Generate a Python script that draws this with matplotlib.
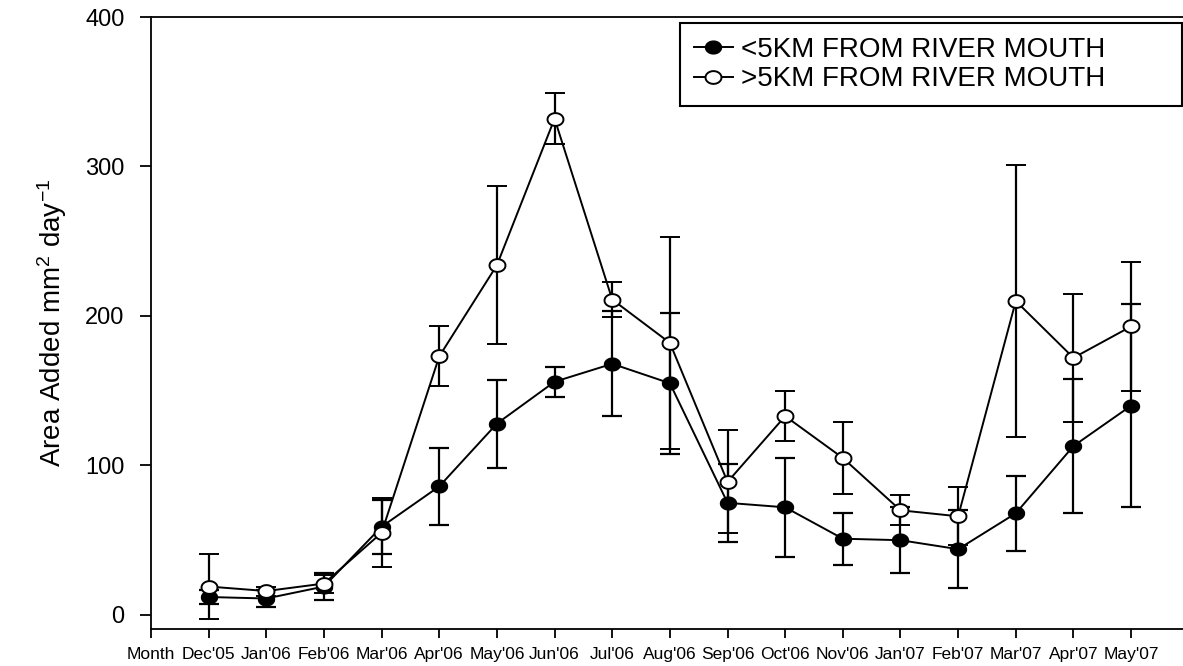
## Area added per day, near vs far from river mouth
import numpy as np
import matplotlib.pyplot as plt

plt.rcParams['font.family'] = ['Liberation Sans', 'DejaVu Sans']
plt.rcParams['mathtext.fontset'] = 'custom'
plt.rcParams['mathtext.rm'] = 'Liberation Sans'
plt.rcParams['mathtext.default'] = 'rm'

## Data
months = ["Month", "Dec'05", "Jan'06", "Feb'06", "Mar'06", "Apr'06", "May'06", "Jun'06",
          "Jul'06", "Aug'06", "Sep'06", "Oct'06", "Nov'06", "Jan'07", "Feb'07", "Mar'07",
          "Apr'07", "May'07"]
near = [12, 11, 19, 59, 86, 128, 156, 168, 155, 75, 72, 51, 50, 44, 68, 113, 140]
near_err = [4.5, 6, 9, 18, 26, 29.5, 10, 35, 47, 26, 33, 17.5, 22, 26, 25, 45, 68]
far = [19, 16, 21, 55, 173, 234, 332, 211, 182, 89, 133, 105, 70, 66, 210, 172, 193]
far_err = [22, 3, 6, 23, 20, 53, 17, 12, 71, 34.5, 16.5, 24, 10, 19.5, 91, 43, 43]

labels = ["<5KM FROM RIVER MOUTH", ">5KM FROM RIVER MOUTH"]

x = np.arange(1, len(near) + 1)

# slightly flattened circle, like the original markers
t = np.linspace(0, 2 * np.pi, 60)
oval = list(zip(np.cos(t), 0.8 * np.sin(t)))

W, H = 1183, 666
fig = plt.figure(figsize=(W / 100.0, H / 100.0), dpi=100)
ax = fig.add_axes([151.0 / W, (H - 629.0) / H, (W - 151.0) / W, (629.0 - 17) / H])

eb1 = ax.errorbar(x, near, yerr=near_err, color='black', marker=oval, ms=11.5,
                  mfc='black', mec='black', lw=1.4, elinewidth=1.6, capsize=7.5,
                  capthick=1.6, zorder=2)
eb2 = ax.errorbar(x, far, yerr=far_err, color='black', marker=oval, ms=11.5,
                  mfc='white', mec='black', mew=1.4, lw=1.4, elinewidth=1.6,
                  capsize=7.5, capthick=1.6, zorder=3)

ax.set_xlim(0, 17.9)
ax.set_ylim(-9.4, 400)
ax.set_xticks(range(len(months)))
ax.set_xticklabels(months, fontsize=12.5)
ax.set_yticks([0, 100, 200, 300, 400])
ax.tick_params(axis='y', labelsize=17, length=8, width=1.3, pad=11, direction='out')
ax.tick_params(axis='x', length=6.5, width=1.3, pad=6.5, direction='out')
for s in ['left', 'bottom', 'top']:
    ax.spines[s].set_linewidth(1.3)
ax.spines['right'].set_visible(False)

ax.set_ylabel("Area Added mm$^2$ day$^{-1}$", fontsize=20, labelpad=12)

leg = ax.legend([eb1.lines[0], eb2.lines[0]], labels, loc='upper left',
                bbox_to_anchor=((680 - 151) / 1032.0, (629 - 23) / 612.0,
                                (1182 - 680) / 1032.0, 0.0),
                mode='expand', borderaxespad=0, fontsize=20, numpoints=1,
                handlelength=1.4, handletextpad=0.3, labelspacing=0.12,
                borderpad=0.5, frameon=True, fancybox=False, framealpha=1)
leg.get_frame().set_edgecolor('black')
leg.get_frame().set_linewidth(1.5)

fig.savefig('out.png', dpi=100)
